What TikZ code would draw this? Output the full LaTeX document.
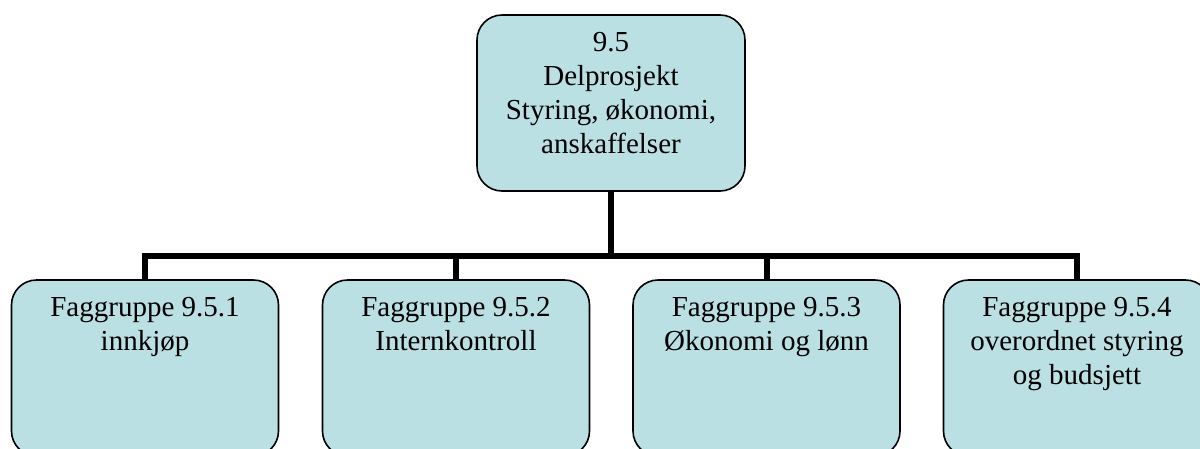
\documentclass[tikz,border=0pt]{standalone}
\usepackage{fontspec}
\setmainfont{Liberation Serif}
\definecolor{boxfill}{RGB}{187,224,227}
\begin{document}
\begin{tikzpicture}[x=1pt,y=-1pt,
  box/.style={draw=black, line width=1.6pt, fill=boxfill, rounded corners=25pt,
    rectangle, minimum width=267pt, minimum height=176pt, inner sep=0pt},
  txt/.style={anchor=north, align=center, inner sep=0pt,
    font=\fontsize{29}{34}\selectfont},
  conn/.style={line width=6pt, line cap=butt, line join=miter}]
\clip (0,0) rectangle (1200,448);
\node[box, minimum width=268pt] (top) at (611,103) {};
\node[box] (b1) at (145,368) {};
\node[box] (b2) at (456,368) {};
\node[box] (b3) at (766.5,368) {};
\node[box] (b4) at (1077,368) {};
\node[txt] (ttop) at ([yshift=-18pt]top.north) {9.5\\Delprosjekt\\Styring, økonomi,\\anskaffelser};
\node[txt] (t1) at ([yshift=-18pt]b1.north) {Faggruppe 9.5.1\\innkjøp};
\node[txt] (t2) at ([yshift=-18pt]b2.north) {Faggruppe 9.5.2\\Internkontroll};
\node[txt] (t3) at ([yshift=-18pt]b3.north) {Faggruppe 9.5.3\\Økonomi og lønn};
\node[txt] (t4) at ([yshift=-18pt]b4.north) {Faggruppe 9.5.4\\overordnet styring\\og budsjett};
\coordinate (bar) at (611,256);
\draw[conn] (top.south) -- (bar);
\draw[conn] (b1.north) |- (bar) -| (b4.north);
\draw[conn] (b2.north) -- (b2.north |- bar);
\draw[conn] (b3.north) -- (b3.north |- bar);
\end{tikzpicture}
\end{document}
